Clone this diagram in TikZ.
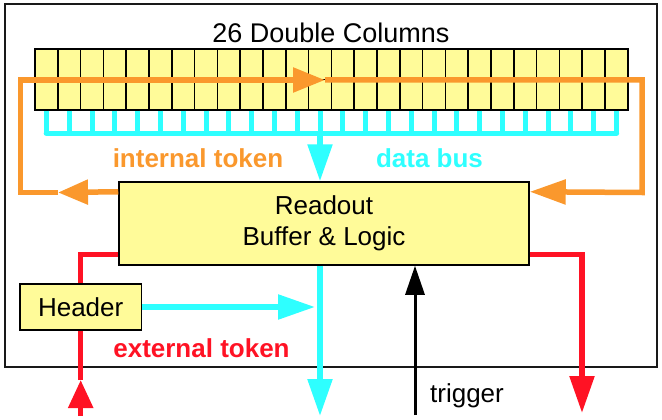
\documentclass[tikz,border=0pt]{standalone}
\usepackage{fontspec}
\setmainfont{Liberation Sans}
\usetikzlibrary{arrows.meta}
\definecolor{cyellow}{RGB}{255,251,153}
\definecolor{corange}{RGB}{250,152,45}
\definecolor{ccyan}{RGB}{46,255,255}
\definecolor{cred}{RGB}{255,18,36}
\tikzset{
  txt/.style={font=\fontsize{26}{31}\selectfont, inner sep=0pt},
  btxt/.style={font=\fontsize{26}{31}\selectfont\bfseries, inner sep=0pt},
  colbox/.style={draw=black, line width=1.5pt, fill=cyellow, minimum width=22.8pt, minimum height=61pt, inner sep=0pt},
  yellowbox/.style={draw=black, line width=1.5pt, fill=cyellow, inner sep=0pt, align=center, font=\fontsize{26}{31}\selectfont},
  tip/.style={-{Triangle[length=#1,width=24pt]}},
  oline/.style={draw=corange, line width=5.5pt},
  cline/.style={draw=ccyan, line width=5.5pt},
  rline/.style={draw=cred, line width=5.5pt},
  kline/.style={draw=black, line width=3pt},
}
\begin{document}
\begin{tikzpicture}[x=1pt,y=-1pt]
\useasboundingbox (0,0) rectangle (662,420);
\draw[line width=2pt, draw=black!90] (5,4) rectangle (657,367);
\node[txt, font=\fontsize{27}{31}\selectfont] (title) at (331,33) {26 Double Columns};
\foreach \i in {1,...,26} {
  \node[colbox] (c\i) at ({35+(\i-0.5)*22.8},79.5) {};
  \draw[line width=1.5pt] (c\i.west) -- (c\i.east);
}
% data bus stubs
\foreach \i in {1,...,26} {
  \draw[ccyan, line width=5pt] (c\i.south) -- ++(0,23);
}
\draw[cline, line cap=round] ([yshift=-22.5pt]c1.south) -- ([yshift=-22.5pt]c26.south);
\coordinate (busjoin) at (320,132.5);

\node[yellowbox, minimum width=410pt, minimum height=83pt] (readout) at (324,223.5) {Readout\\Buffer \& Logic};
\node[yellowbox, minimum width=121.5pt, minimum height=46pt] (header) at (80.7,307) {Header};

% orange internal token loop
\coordinate (oL) at ([yshift=-10.5pt]readout.north west);
\coordinate (oR) at ([yshift=-10.5pt]readout.north east);
\coordinate (ot1) at (58,192.5);
\coordinate (oc1) at (20.3,192.5);
\coordinate (oc2) at (20.3,80);
\coordinate (ot2) at (325,80);
\coordinate (oc3) at (642,80);
\coordinate (oc4) at (642,192.5);
\draw[oline, tip=30pt] (oL) -- (ot1);
\draw[oline, tip=32pt] (ot1) -- (oc1) -- (oc2) -- (ot2);
\draw[oline, tip=36pt] (ot2) -- (oc3) -- (oc4) -- (oR);

% cyan
\draw[cline, tip=37pt] (busjoin) -- (busjoin |- readout.north);
\coordinate (cbot) at (320,416);
\draw[cline, tip=37pt] (busjoin |- readout.south) -- (cbot);
\draw[cline, tip=37pt, shorten >=5pt] (header.east) -- (busjoin |- header.east);

% red
\coordinate (rL) at ([yshift=11.5pt]readout.south west);
\draw[rline] (rL) -| (header.north);
\coordinate (rin) at (80.7,416);
\coordinate (rtip) at (80.7,380);
\draw[rline, tip=28pt] (rin) -- (rtip);
\draw[rline] (rtip) -- (header.south);
\coordinate (rR) at ([yshift=11.5pt]readout.south east);
\coordinate (rout) at (582,413);
\draw[rline, tip=37pt] (rR) -| (rout);

% trigger
\coordinate (trin) at (415,415);
\draw[kline, -{Triangle[length=29pt,width=19pt]}] (trin) -- (trin |- readout.south);

% labels
\node[btxt, text=corange] (itok) at (198,158) {internal token};
\node[btxt, text=ccyan] (dbus) at (429.5,158) {data bus};
\node[btxt, text=cred] (etok) at (201.5,348) {external token};
\node[txt] (trig) at (467,396) {trigger};
\end{tikzpicture}
\end{document}
